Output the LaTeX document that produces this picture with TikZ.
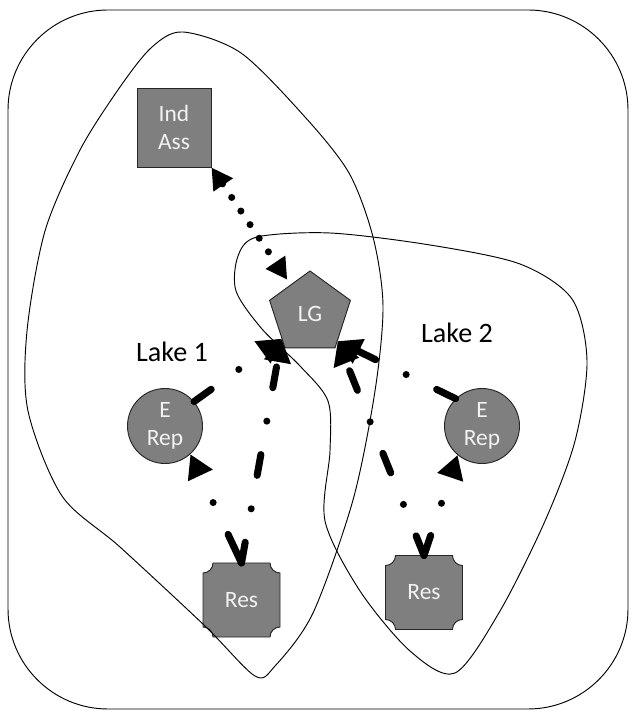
\documentclass[tikz,border=0pt]{standalone}
\usepackage{fontspec}
\setmainfont{Carlito}
\usetikzlibrary{arrows.meta,calc,shapes.geometric,backgrounds}

\definecolor{boxgray}{HTML}{7F7F7F}
\definecolor{boxtext}{HTML}{F2F2F2}

% plate with hollowed-out corners, drawn behind the node
\newcommand{\resoutline}[1]{%
  \begin{pgfonlayer}{background}
  \draw[resline] ($(#1.north west)+(10,0)$) -- ($(#1.north east)+(-10,0)$)
    arc[start angle=180, end angle=270, radius=10]
    -- ($(#1.south east)+(0,10)$)
    arc[start angle=90, end angle=180, radius=10]
    -- ($(#1.south west)+(10,0)$)
    arc[start angle=0, end angle=90, radius=10]
    -- ($(#1.north west)+(0,-10)$)
    arc[start angle=270, end angle=360, radius=10] -- cycle;
  \end{pgfonlayer}}

\begin{document}
\begin{tikzpicture}[x=0.03cm, y=0.03cm,
  font=\fontsize{20}{24}\selectfont,
  actor/.style={draw=black!85, line width=0.8pt, fill=boxgray, text=boxtext, align=center, inner sep=0pt},
  assbox/.style={actor, rectangle, minimum width=2.22cm, minimum height=2.37cm},
  lgbox/.style={actor, regular polygon, regular polygon sides=5, minimum size=2.55cm},
  repbox/.style={actor, circle, minimum size=2.25cm},
  resbox/.style={rectangle, text=boxtext, inner sep=0pt, outer sep=0pt, minimum width=2.31cm, minimum height=2.22cm},
  resline/.style={draw=black!85, line width=0.8pt, fill=boxgray},
  lake/.style={line width=0.8pt},
  lakelab/.style={font=\fontsize{24}{28}\selectfont},
  link/.style={line width=6pt, line cap=round, dash pattern=on 18pt off 29pt on 0pt off 29pt,
    -{Triangle[length=20pt, width=22pt]}},
  assoc/.style={line width=6pt, line cap=round, dash pattern=on 0pt off 14pt,
    {Triangle[length=18pt, width=19pt]}-{Triangle[length=18pt, width=19pt]}}]
\useasboundingbox (0,0) rectangle (630,711);

% frame and the two lakes
\draw[lake, rounded corners=3cm] (8,2) rectangle (628,701);
\draw[lake] plot[smooth cycle] coordinates {(183,679) (241,658) (305,594) (349,538) (373,474)
  (383,405) (375,320) (353,211) (313,98) (275,45) (255,35) (205,85) (120,164) (62,215)
  (28,300) (27,380) (45,480) (80,561) (120,624) (152,664)};
\draw[lake] plot[smooth cycle] coordinates {(257,474) (330,478) (430,466) (520,447) (572,412)
  (587,350) (575,270) (545,190) (500,100) (455,38) (410,60) (360,120) (325,190) (330,260)
  (328,310) (300,345) (262,382) (236,420) (238,455)};
\node[lakelab] (lake1) at (172,359) {Lake 1};
\node[lakelab] (lake2) at (457,378) {Lake 2};

% actors
\node[assbox] (ind) at (174,583.5) {Ind\\Ass};
\node[lgbox] (lg) at (310,397.5) {LG};
\node[repbox] (erep1) at (165,285) {E\\Rep};
\node[repbox] (erep2) at (482,285) {E\\Rep};
\node[resbox] (res1) at (241.5,111) {Res};
\node[resbox] (res2) at (424,118.5) {Res};
\resoutline{res1}
\resoutline{res2}

\coordinate (lgin1) at ($(lg.corner 3)!0.2!(lg.corner 2)$);
\coordinate (lgin2) at ($(lg.corner 4)!0.15!(lg.corner 5)$);

% links
\draw[assoc, shorten >=5pt] (ind.south east) -- (lg);
\draw[link] (erep1.40) -- (lgin1);
\draw[link] (res1.north) -- (lgin1);
\draw[link, dash pattern=on 27pt off 30pt on 0pt off 40pt] (res1.north) -- (erep1.-48);
\draw[link] (erep2.134) -- (lgin2);
\draw[link] (res2.north) -- (lgin2);
\draw[link] (res2.north) -- (erep2.230);
\end{tikzpicture}
\end{document}
